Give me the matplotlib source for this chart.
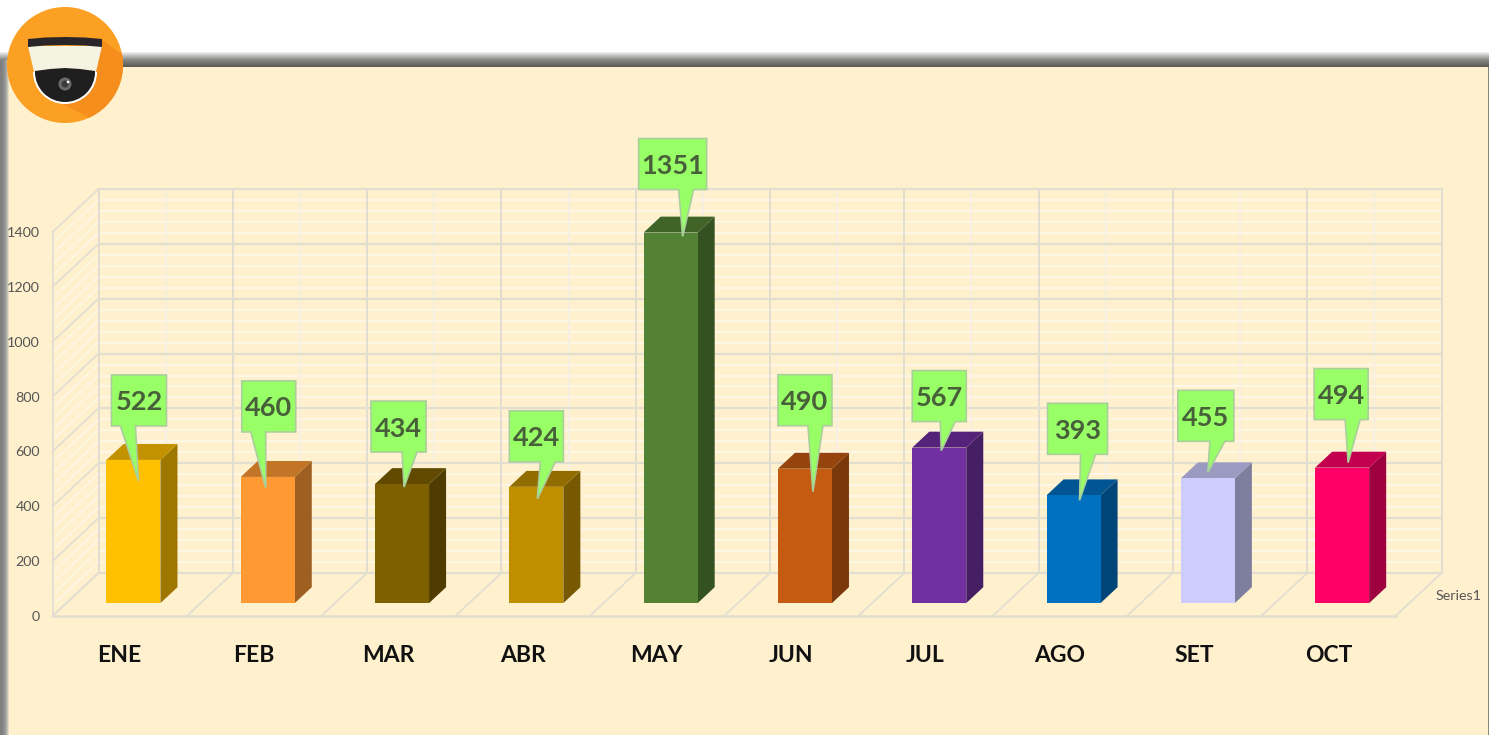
import matplotlib
matplotlib.use('Agg')
import matplotlib.pyplot as plt
import numpy as np
from matplotlib.patches import Polygon, Circle, Wedge
from matplotlib.colors import to_rgb, LinearSegmentedColormap

months = ['ENE', 'FEB', 'MAR', 'ABR', 'MAY', 'JUN', 'JUL', 'AGO', 'SET', 'OCT']
values = [522, 460, 434, 424, 1351, 490, 567, 393, 455, 494]
colors = ['#FFC000', '#FF9933', '#7F6000', '#BF8F00', '#548235',
          '#C55A11', '#7030A0', '#0070C0', '#CCCCFF', '#FF0066']
yticks = [0, 200, 400, 600, 800, 1000, 1200, 1400]

# callout layout, pixels from the top centre of each bar's front face
box_dx = [-22, -26, -31, -27, -32, -27, -27, -26, -30, -28]
box_dy = [34, 45, 32, 25, 43, 43, 26, 41, 37, 48]
box_w = [55, 54, 55, 54, 68, 54, 54, 60, 56, 54]
stem_x = [9, 9, 31, 31, 40, 30, 28, 33, 32, 31]
tip_dx = [5, -2, 2, 1, 12, 8, 2, 6, 0, 6]
tip_dy = [-21, -11, -3, -12, -4, -23, -3, -5, 6, 5]

W, H = 1489, 735
DEPTH_X = 46 / 134.3       # full floor depth in category units
DEPTH_Y = 43 / 0.2743      # full floor depth in value units

plt.rcParams['font.family'] = ['Lato', 'DejaVu Sans']

fig = plt.figure(figsize=(W / 100, H / 100), dpi=100, facecolor='white')

# background panel with its shadow, in pixels
bg = fig.add_axes([0, 0, 1, 1], zorder=0)
bg.axis('off')
shade = LinearSegmentedColormap.from_list('shade', ['#f2f2f2', '#8a8a88', '#5a5954'])
left_shade = LinearSegmentedColormap.from_list('lshade', ['#7d7d7d', '#858585', '#a0a0a0', '#f0e6cc'])
grad = np.linspace(0, 1, 64)
bg.imshow(grad[:, None], extent=[0, W, 67, 52], cmap=shade, aspect='auto')
bg.imshow(grad[None, :], extent=[0, 9, H, 60], cmap=left_shade, aspect='auto')
bg.fill_between([9, 1488], 67, H, color='#FFF1CE', lw=0)
bg.fill_between([1488, W], 67, H, color='#8a8778', lw=0)
bg.set_xlim(0, W)
bg.set_ylim(H, 0)

# chart axes: the front plane of the 3D box
ax = fig.add_axes([52.5 / W, 1 - 616 / H, (1395 - 52) / W, (616 - 232) / H], zorder=1)
ax.set_xlim(-0.5, 9.5)
ax.set_ylim(0, 1400)
ax.patch.set_alpha(0)
for s in ax.spines.values():
    s.set_visible(False)
ax.set_yticks(yticks)
ax.set_xticks(range(len(months)))
ax.set_xticklabels(months, fontsize=16.5, fontweight='bold', color='#111111')
ax.set_yticklabels([str(t) for t in yticks], fontsize=10.3, color='#555555')
ax.tick_params(axis='y', length=0, pad=9)
ax.tick_params(axis='x', length=0, pad=21)

grid = '#E2DED0'
minor = '#FFF8E9'
xedges = np.arange(-0.5, 10)
xmids = xedges[:-1] + 0.5
xb = DEPTH_X
yb = DEPTH_Y

# minor lines first, major on top
for v in np.arange(0, 1400, 40):
    ax.plot([-0.5 + xb, 9.5 + xb], [v + yb, v + yb], color=minor, lw=1.3, clip_on=False, zorder=1)
    ax.plot([-0.5, -0.5 + xb], [v, v + yb], color=minor, lw=1, clip_on=False, zorder=1)
for x in xmids:
    ax.plot([x + xb, x + xb], [yb, 1400 + yb], color='#F7F0E0', lw=1.6, clip_on=False, zorder=1)
for v in yticks:
    ax.plot([-0.5 + xb, 9.5 + xb], [v + yb, v + yb], color=grid, lw=1.6, clip_on=False, zorder=2)
    ax.plot([-0.5, -0.5 + xb], [v, v + yb], color=grid, lw=1.3, clip_on=False, zorder=2)
for x in xedges:
    ax.plot([x + xb, x + xb], [yb, 1400 + yb], color=grid, lw=1.4, clip_on=False, zorder=2)
    ax.plot([x, x + xb], [0, yb], color=grid, lw=1.3, clip_on=False, zorder=2)
ax.plot([-0.5, 9.5], [0, 0], color=grid, lw=1.8, clip_on=False, zorder=2)
ax.plot([-0.5, -0.5], [0, 1400], color=grid, lw=1.3, clip_on=False, zorder=2)

ax.text(9.5 + xb * 0.87, yb * 0.46, 'Series1', fontsize=10.3, color='#555555', va='center', ha='left', clip_on=False)

# bars
half = 27 / 134.3
d0, d1 = 0.30, 0.67
def dark(c, f):
    return tuple(np.array(to_rgb(c)) * f)

for i, (v, c) in enumerate(zip(values, colors)):
    l = i - half + d0 * xb
    r = i + half + d0 * xb
    b = d0 * yb
    t = v + d0 * yb
    ex = (d1 - d0) * xb
    ey = (d1 - d0) * yb
    ax.add_patch(Polygon([(r, b), (r + ex, b + ey), (r + ex, t + ey), (r, t)], color=dark(c, 0.62), lw=0, zorder=3, clip_on=False))
    ax.add_patch(Polygon([(l, t), (r, t), (r + ex, t + ey), (l + ex, t + ey)], color=dark(c, 0.76), lw=0, zorder=3, clip_on=False))
    ax.add_patch(Polygon([(l, b), (r, b), (r, t), (l, t)], color=c, lw=0, zorder=4, clip_on=False))

# callouts on top, in pixels
top = fig.add_axes([0, 0, 1, 1], zorder=2)
top.set_xlim(0, W)
top.set_ylim(H, 0)
top.axis('off')
for i, v in enumerate(values):
    cx, cy = ax.transData.transform((i + d0 * xb, v + d0 * yb))
    cy = H - cy
    left = cx + box_dx[i]
    bottom = cy - box_dy[i]
    w = box_w[i]
    h = 51
    tip = (cx + tip_dx[i], cy - tip_dy[i])
    pts = [(left, bottom - h), (left + w, bottom - h), (left + w, bottom),
           (left + stem_x[i] + 15, bottom), tip, (left + stem_x[i], bottom), (left, bottom)]
    top.add_patch(Polygon(pts, closed=True, facecolor='#99FF66', edgecolor='#A9D09A', lw=1.2, joinstyle='miter'))
    top.text(left + w / 2, bottom - h / 2 + 2, str(v), fontsize=19.5, fontweight='bold', color='#48603A', ha='center', va='center')

# camera logo
top.add_patch(Circle((65, 65), 58, color='#FCA024', lw=0))
clip = Circle((65, 65), 58, transform=top.transData)
sh = Polygon([(102, 40), (130, 60), (130, 130), (90, 118), (50, 98)], color='#F68E1E', lw=0)
top.add_patch(sh)
sh.set_clip_path(clip)
top.add_patch(Polygon([(28, 46), (102, 46), (96, 72), (34, 72)], color='#F5F3E2', lw=0))
top.add_patch(Polygon([(28, 39), (45, 37.5), (65, 37), (85, 37.5), (102, 39), (102, 47),
                       (85, 45.5), (65, 45), (45, 45.5), (28, 47)], color='#2A2528', lw=0))
top.add_patch(Wedge((65, 72), 32, 0, 180, color='white', lw=0))
top.add_patch(Polygon([(35, 71), (50, 69), (65, 68), (80, 69), (95, 71), (95, 75), (35, 75)], color='#1F1F1F', lw=0))
top.add_patch(Wedge((65, 72), 30, 0, 180, color='#1F1F1F', lw=0))
top.add_patch(Circle((65, 84), 6.5, color='#6A6A6A', lw=0))
top.add_patch(Circle((65, 84), 3.5, color='#3A3A3A', lw=0))
top.add_patch(Circle((68, 82), 1.3, color='white', lw=0))
top.set_xlim(0, W)
top.set_ylim(H, 0)

fig.savefig('out.png', dpi=100)
